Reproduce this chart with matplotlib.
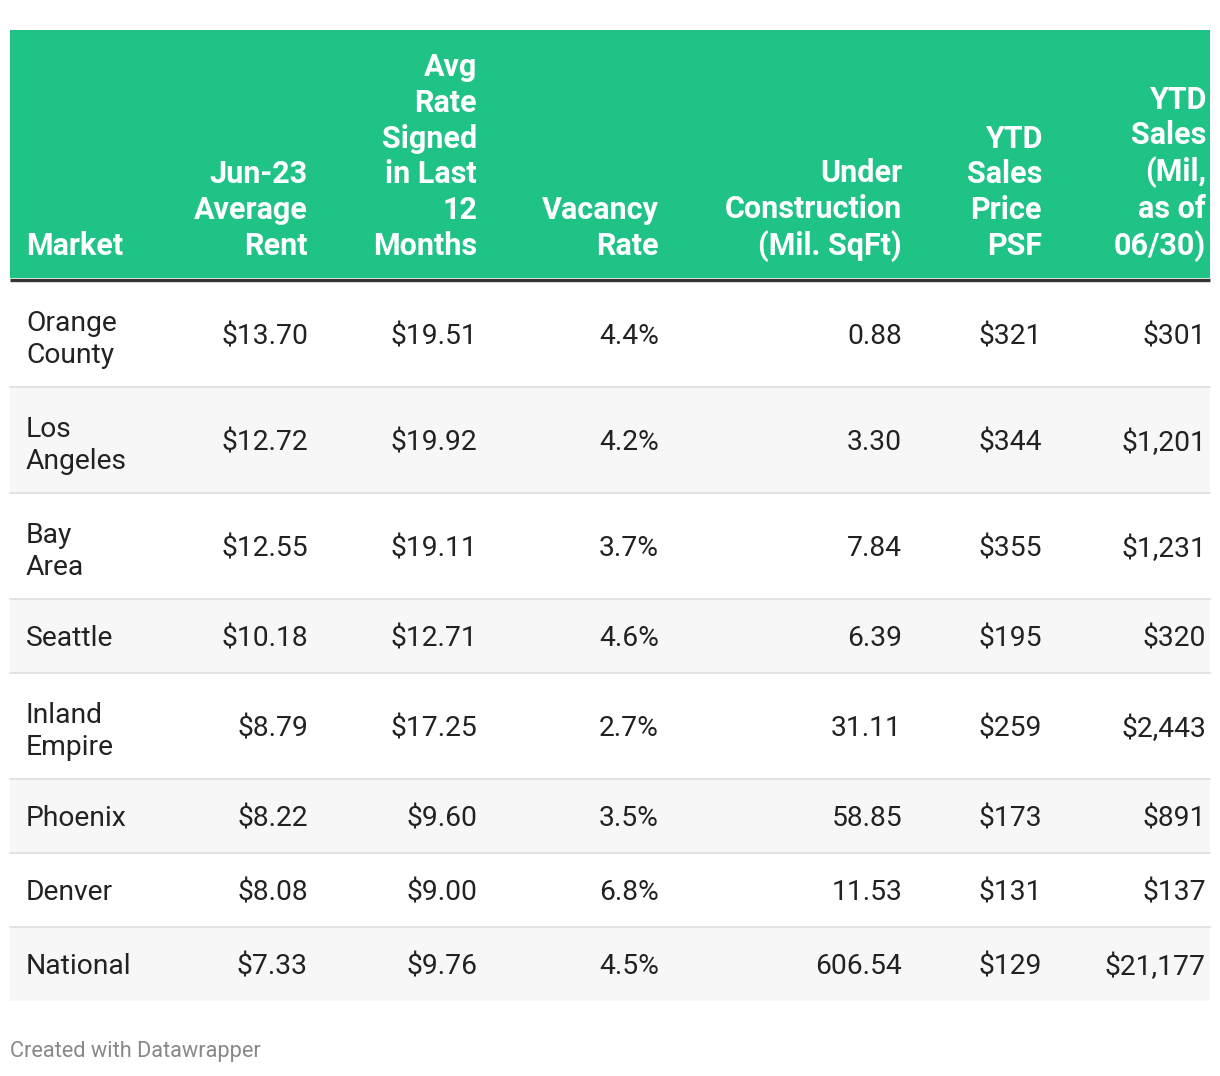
import matplotlib.pyplot as plt
from matplotlib.patches import Rectangle

plt.rcParams['font.family'] = ['Roboto', 'DejaVu Sans']

columns = ["Market", "Jun-23\nAverage\nRent", "Avg\nRate\nSigned\nin Last\n12\nMonths",
           "Vacancy\nRate", "Under\nConstruction\n(Mil. SqFt)", "YTD\nSales\nPrice\nPSF",
           "YTD\nSales\n(Mil,\nas of\n06/30)"]
markets = ["Orange\nCounty", "Los\nAngeles", "Bay\nArea", "Seattle", "Inland\nEmpire",
           "Phoenix", "Denver", "National"]
avg_rent = [13.70, 12.72, 12.55, 10.18, 8.79, 8.22, 8.08, 7.33]
rate_signed = [19.51, 19.92, 19.11, 12.71, 17.25, 9.60, 9.00, 9.76]
vacancy = [4.4, 4.2, 3.7, 4.6, 2.7, 3.5, 6.8, 4.5]
under_constr = [0.88, 3.30, 7.84, 6.39, 31.11, 58.85, 11.53, 606.54]
price_psf = [321, 344, 355, 195, 259, 173, 131, 129]
ytd_sales = [301, 1201, 1231, 320, 2443, 891, 137, 21177]

cells = []
for i in range(len(markets)):
    cells.append([markets[i],
                  "${:.2f}".format(avg_rent[i]),
                  "${:.2f}".format(rate_signed[i]),
                  "{:.1f}%".format(vacancy[i]),
                  "{:.2f}".format(under_constr[i]),
                  "${:,}".format(price_psf[i]),
                  "${:,}".format(ytd_sales[i])])

# layout in pixels
W, H = 1220, 1076
left, right = 10, 1210
col_x = [26, 308, 477, 659, 902, 1042, 1206]
green = "#20c386"

fig = plt.figure(figsize=(W / 100, H / 100), dpi=100)
ax = fig.add_axes([0, 0, 1, 1])
ax.set_xlim(0, W)
ax.set_ylim(H, 0)
ax.axis("off")

# header
ax.add_patch(Rectangle((left, 30), right - left, 248, color=green, lw=0))
ax.plot([left, right], [279.5, 279.5], color="#333333", lw=2.4, solid_capstyle="butt")
for j, c in enumerate(columns):
    ax.text(col_x[j], 255, c, ha="left" if j == 0 else "right", va="baseline",
            color="white", fontsize=22, fontweight="bold", linespacing=1.24)

# body rows
y = 281
for i, row in enumerate(cells):
    nlines = row[0].count("\n") + 1
    h = 74 + 32 * (nlines - 1)
    if i % 2 == 1:
        ax.add_patch(Rectangle((left, y), right - left, h, color="#f7f7f7", lw=0))
    if i < len(cells) - 1:
        ax.plot([left, right], [y + h, y + h], color="#dddddd", lw=1.2)
    yc = y + h / 2
    for j, val in enumerate(row):
        ax.text(col_x[j], yc, val, ha="left" if j == 0 else "right", va="center_baseline",
                color="#222222", fontsize=20.3, linespacing=1.25)
    y += h

ax.text(10, 1052, "Created with Datawrapper", ha="left", va="center",
        color="#888888", fontsize=15.7)

plt.savefig("out.png", dpi=100)
